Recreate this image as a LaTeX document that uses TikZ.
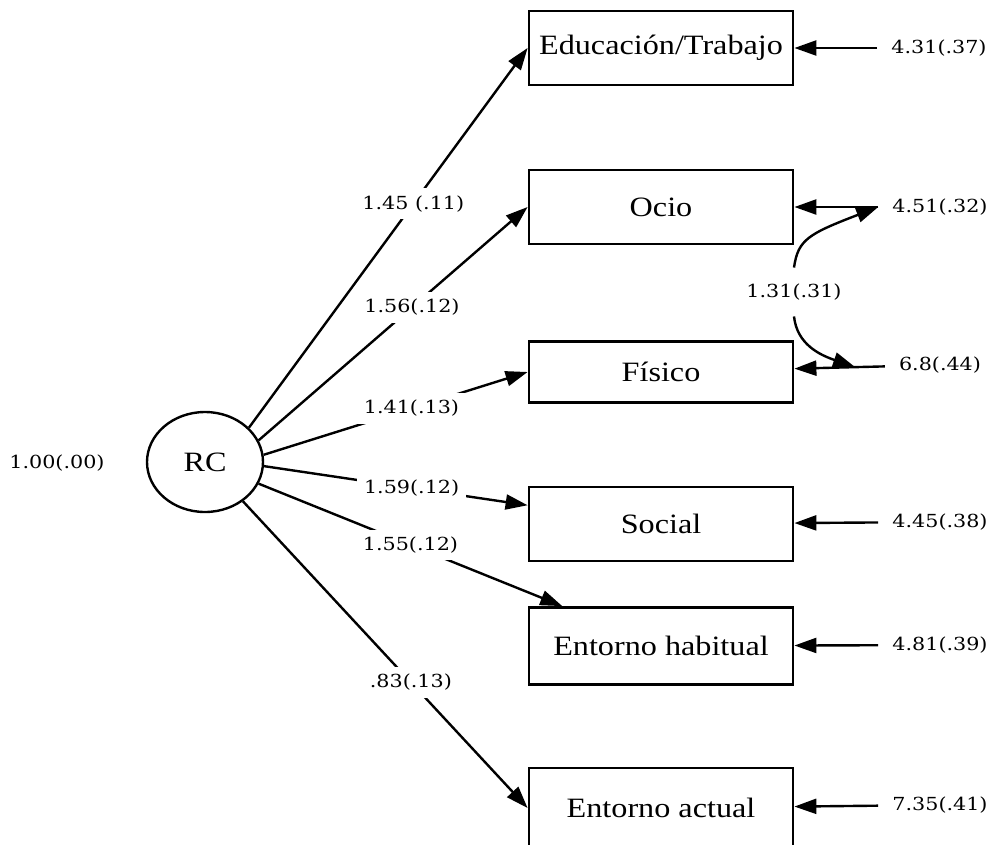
\documentclass[tikz,border=0pt]{standalone}
\usepackage{fontspec}
\setmainfont{Liberation Serif}[FakeStretch=1.15]
\newfontfamily\lblfont{DejaVu Serif}[FakeStretch=1.15]
\usetikzlibrary{arrows.meta}
\usetikzlibrary{shapes.geometric}

\begin{document}
\begin{tikzpicture}[x=1pt,y=-1pt,
  var/.style={draw,line width=2.8pt,minimum width=264pt,minimum height=74pt,inner sep=0pt,font=\fontsize{28}{32}\selectfont},
  lat/.style={draw,ellipse,line width=2.4pt,minimum width=116pt,minimum height=100pt,inner sep=0pt,font=\fontsize{28}{32}\selectfont},
  val/.style={font=\lblfont\fontsize{18}{22}\selectfont,inner sep=2pt},
  err/.style={val,inner xsep=14pt},
  coef/.style={val,fill=white,inner sep=7pt},
  arr/.style={line width=2.4pt,-{Triangle[length=22pt,width=15pt]}}]
\useasboundingbox (0,0) rectangle (993,844);
% latent variable
\node[lat] (rc) at (205,462) {RC};
\node[val] (rcv) at (57,463) {1.00(.00)};
% indicators
\node[var] (edu) at (661,48) {Educación/Trabajo};
\node[var] (ocio) at (661,207) {Ocio};
\node[var,minimum height=61pt] (fis) at (661,372) {Físico};
\node[var] (soc) at (661,524) {Social};
\node[var,minimum height=77pt] (hab) at (661,646) {Entorno habitual};
\node[var,minimum height=80pt] (act) at (661,808) {Entorno actual};
% error variances
\node[err] (edue) at (939,48) {4.31(.37)};
\node[err] (ocioe) at (940,207) {4.51(.32)};
\node[err] (fise) at (940,365) {6.8(.44)};
\node[err] (soce) at (940,522) {4.45(.38)};
\node[err] (habe) at (940,645) {4.81(.39)};
\node[err] (acte) at (940,805) {7.35(.41)};
\node[val,inner ysep=16pt] (cov) at (794,292) {1.31(.31)};
\coordinate (fisin) at (855,367);
% loadings
\draw[arr] (rc.38) -- node[coef,pos=.59] {1.45 (.11)} (edu.west);
\draw[arr] (rc.22) -- node[coef,pos=.57] {1.56(.12)} (ocio.west);
\draw[arr] (rc.7) -- node[coef,pos=.56] {1.41(.13)} (fis.west);
\draw[arr] (rc.-4) -- node[coef,pos=.56] {1.59(.12)} (soc.172);
\draw[arr] (rc.-22) -- node[coef,pos=.5] {1.55(.12)} (hab);
\draw[arr] (rc.-46) -- node[coef,pos=.59] {.83(.13)} (act.west);
% errors
\draw[arr] (edue) -- (edu);
\draw[arr] (ocioe) -- (ocio);
\draw[arr] (fise) -- (fis);
\draw[arr] (soce) -- (soc);
\draw[arr] (habe) -- (hab);
\draw[arr] (acte) -- (act);
% covariance
\draw[arr] (cov.north) .. controls +(4,-28) and +(-70,27) .. (ocioe.west);
\draw[arr] (cov.south) .. controls +(3,28) and +(-35,-12) .. (fisin);
\end{tikzpicture}
\end{document}
